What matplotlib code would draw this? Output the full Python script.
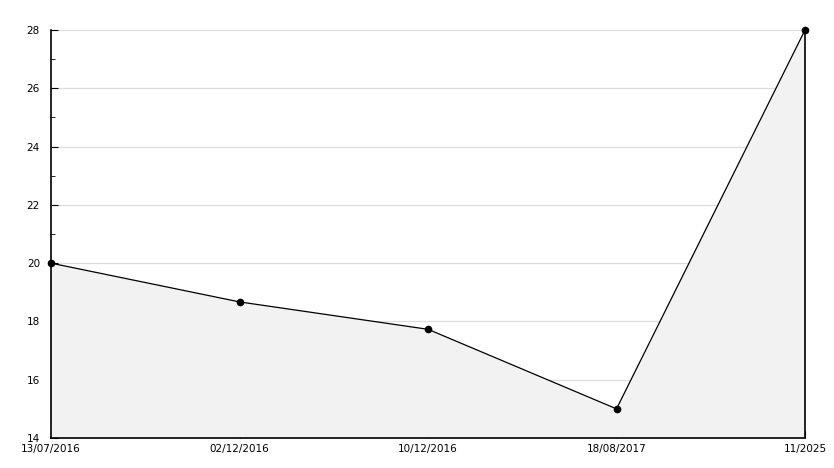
import numpy as np
import matplotlib
matplotlib.use("Agg")
from matplotlib import pyplot as plt
from matplotlib.ticker import MultipleLocator

dates = ["13/07/2016", "02/12/2016", "10/12/2016", "18/08/2017", "11/2025"]
values = [20.0, 18.67, 17.73, 15.0, 28.0]

fig = plt.figure(figsize=(8.34, 4.68), dpi=100)
ax = fig.add_axes([51 / 834, 30 / 468, 754 / 834, 408 / 468])

x = np.arange(len(dates))
ax.fill_between(x, values, 14, facecolor="#f2f2f2", edgecolor="none", zorder=1)
ax.plot(x, values, color="black", lw=0.9, marker="o", ms=4.5, zorder=5, clip_on=False)
ax.vlines(x[-1], 14, values[-1], color="black", lw=1.2, zorder=3, clip_on=False)

ax.set_xlim(x[0], x[-1])
ax.set_ylim(14, 28)
ax.set_xticks(x)
ax.set_xticklabels(dates)
ax.yaxis.set_major_locator(MultipleLocator(2))
ax.yaxis.set_minor_locator(MultipleLocator(1))
ax.grid(axis="y", which="major", color="#dddddd", lw=0.9, zorder=0)
ax.set_axisbelow(True)

for s in ["top", "right"]:
    ax.spines[s].set_visible(False)
for s in ["left", "bottom"]:
    ax.spines[s].set_linewidth(1.2)
    ax.spines[s].set_zorder(4)

ax.tick_params(axis="both", which="both", direction="in", labelsize=7.5, colors="black")
ax.tick_params(axis="y", which="major", length=5, pad=8)
ax.tick_params(axis="y", which="minor", length=3)
ax.tick_params(axis="x", length=5, pad=4)
# lift the bottom y label a little so it sits clear of the first date
ax.get_yticklabels()[0].set_va("bottom")

fig.savefig("out.png", dpi=100)
